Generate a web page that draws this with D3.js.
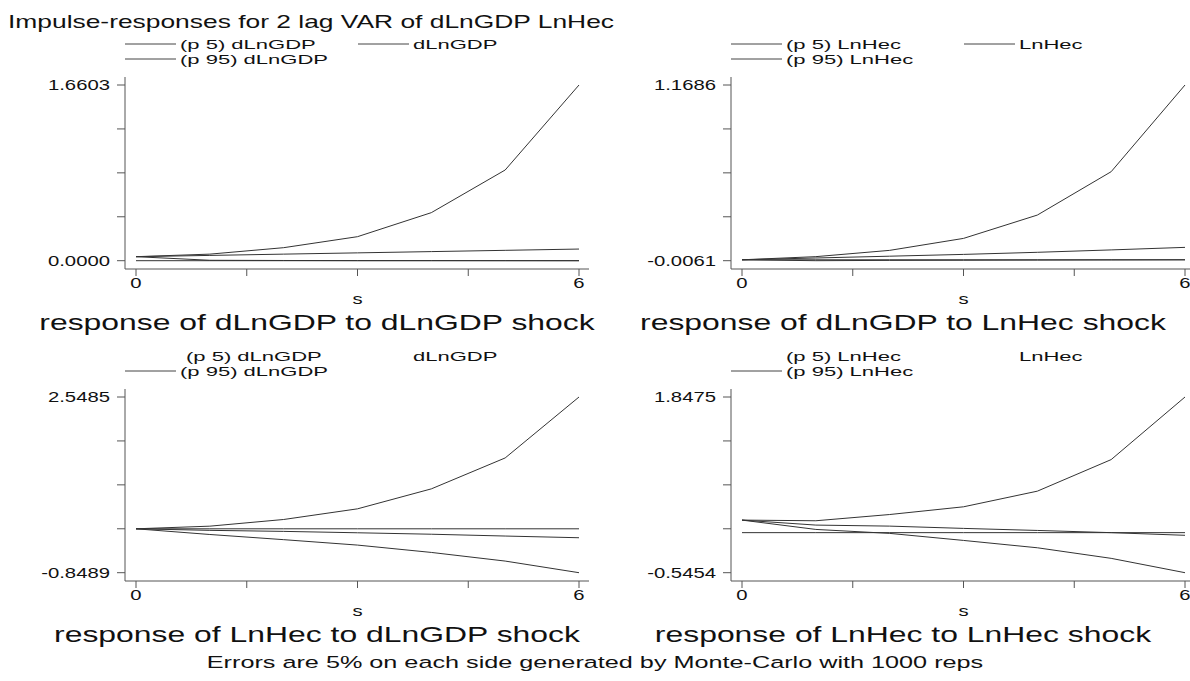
<!DOCTYPE html>
<html>
<head>
<meta charset="utf-8">
<script src="https://cdn.jsdelivr.net/npm/d3@7"></script>
<style>
  html, body { margin: 0; padding: 0; background: #fff; }
  svg { display: block; font-family: "Liberation Sans", Arial, sans-serif; }
</style>
</head>
<body>
<svg id="chart" width="1190" height="681"></svg>
<script>
// ---------------- DATA ----------------
const steps = [0, 1, 2, 3, 4, 5, 6];

const panelTitles = [
  "response of dLnGDP to dLnGDP shock",
  "response of dLnGDP to LnHec shock",
  "response of LnHec to dLnGDP shock",
  "response of LnHec to LnHec shock"
];
const shockNames = ["dLnGDP", "LnHec", "dLnGDP", "LnHec"];

const yMaxLabels = ["1.6603", "1.1686", "2.5485", "1.8475"];
const yMinLabels = ["0.0000", "-0.0061", "-0.8489", "-0.5454"];
const xTickValues = [0, 1.5, 3, 4.5, 6];
const xTickLabels = ["0", "", "", "", "6"];

// (p 95) upper bounds
const p95_gdp_gdp = [0.038, 0.062, 0.123, 0.227, 0.454, 0.857, 1.6603];
const p95_gdp_hec = [0.000, 0.021, 0.063, 0.143, 0.299, 0.589, 1.1686];
const p95_hec_gdp = [0.000, 0.051, 0.180, 0.386, 0.772, 1.370, 2.5485];
const p95_hec_hec = [0.171, 0.162, 0.247, 0.352, 0.565, 0.995, 1.8475];

// point impulse responses
const irf_gdp_gdp = [0.038, 0.050, 0.062, 0.074, 0.086, 0.098, 0.110];
const irf_gdp_hec = [0.000, 0.012, 0.024, 0.036, 0.050, 0.066, 0.083];
const irf_hec_gdp = [0.000, -0.030, -0.050, -0.077, -0.105, -0.140, -0.173];
const irf_hec_hec = [0.171, 0.103, 0.089, 0.058, 0.030, 0.000, -0.036];

// (p 5) lower bounds
const p5_gdp_gdp = [0.038, 0.004, 0.002, 0.001, 0.001, 0.0005, 0.000];
const p5_gdp_hec = [0.000, -0.0061, -0.004, -0.003, -0.002, -0.001, 0.000];
const p5_hec_gdp = [0.000, -0.110, -0.210, -0.315, -0.457, -0.624, -0.8489];
const p5_hec_hec = [0.171, 0.044, -0.010, -0.106, -0.206, -0.350, -0.5454];

const zeroLine = [0, 0, 0, 0, 0, 0, 0];

const mainTitle = "Impulse-responses for 2 lag VAR of dLnGDP LnHec";
const footNote = "Errors are 5% on each side generated by Monte-Carlo with 1000 reps";

// ---------------- LAYOUT ----------------
const SX = 1.45; // horizontal stretch of the original text
const colOff = [0, 606];
const rowOff = [0, 312];
const base = { axisX: 125, x0: 136, x1: 579, yTop: 85, yBot: 260.7, axisTop: 77, axisY: 269, axisRight: 589 };
const subCenters = [317, 903];

const panels = [
  { p95: p95_gdp_gdp, irf: irf_gdp_gdp, p5: p5_gdp_gdp },
  { p95: p95_gdp_hec, irf: irf_gdp_hec, p5: p5_gdp_hec },
  { p95: p95_hec_gdp, irf: irf_hec_gdp, p5: p5_hec_gdp },
  { p95: p95_hec_hec, irf: irf_hec_hec, p5: p5_hec_hec }
];

const svg = d3.select("#chart");

function addText(sel, x, y, str, size, anchor, sx) {
  return sel.append("text")
    .attr("transform", `translate(${x},${y}) scale(${sx || SX},1)`)
    .attr("text-anchor", anchor || "start")
    .attr("font-size", size)
    .attr("fill", "#111")
    .text(str);
}

addText(svg, 8, 28, mainTitle, 18.2, "start");

panels.forEach((p, i) => {
  const col = i % 2, row = Math.floor(i / 2);
  const dx = colOff[col], dy = rowOff[row];
  const g = svg.append("g").attr("transform", `translate(${dx},${dy})`);
  const yMin = parseFloat(yMinLabels[i]), yMax = parseFloat(yMaxLabels[i]);

  const x = d3.scaleLinear().domain([0, 6]).range([base.x0, base.x1]);
  const y = d3.scaleLinear().domain([yMin, yMax]).range([base.yBot, base.yTop]);

  // axes
  g.append("line").attr("x1", base.axisX).attr("x2", base.axisX)
    .attr("y1", base.axisTop).attr("y2", base.axisY)
    .attr("stroke", "#555").attr("stroke-width", 1);
  g.append("line").attr("x1", base.axisX).attr("x2", base.axisRight)
    .attr("y1", base.axisY).attr("y2", base.axisY)
    .attr("stroke", "#555").attr("stroke-width", 1);

  const yTicks = d3.range(5).map(k => yMin + (yMax - yMin) * k / 4);
  g.selectAll(".yt").data(yTicks).enter().append("line")
    .attr("x1", base.axisX - 8).attr("x2", base.axisX)
    .attr("y1", d => y(d)).attr("y2", d => y(d))
    .attr("stroke", "#555");
  addText(g, base.axisX - 15, y(yMax) + 5, yMaxLabels[i], 14, "end");
  addText(g, base.axisX - 15, y(yMin) + 5, yMinLabels[i], 14, "end");

  g.selectAll(".xt").data(xTickValues).enter().append("line")
    .attr("x1", d => x(d)).attr("x2", d => x(d))
    .attr("y1", base.axisY).attr("y2", base.axisY + 7)
    .attr("stroke", "#555");
  xTickValues.forEach((v, k) => {
    if (xTickLabels[k]) addText(g, x(v), base.axisY + 19, xTickLabels[k], 14, "middle");
  });
  addText(g, x(3), base.axisY + 35, "s", 14, "middle");
  addText(svg, subCenters[col], dy + 330, panelTitles[i], 22, "middle");

  // legend
  const nm = shockNames[i];
  const lg = g.append("g");
  const legSX = 1.72, legSize = 12.8;
  const shift = (row === 1 && col === 0) ? 6 : 0;
  const legendRows = [
    { lx: base.axisX, tx: base.axisX + 55 + shift, ty: 48.5, label: `(p 5) ${nm}`, show: row === 0 },
    { lx: base.axisX + 233, tx: base.axisX + 288, ty: 48.5, label: nm, show: row === 0 },
    { lx: base.axisX, tx: base.axisX + 55, ty: 63.5, label: `(p 95) ${nm}`, show: true }
  ];
  legendRows.forEach(r => {
    if (r.show) lg.append("line").attr("x1", r.lx).attr("x2", r.lx + 51)
      .attr("y1", r.ty - 4.5).attr("y2", r.ty - 4.5).attr("stroke", "#444").attr("stroke-width", 1);
    addText(lg, r.tx, r.ty, r.label, legSize, "start", legSX);
  });

  // lines
  const line = d3.line().x((d, k) => x(steps[k])).y(d => y(d));
  [zeroLine, p.p5, p.irf, p.p95].forEach(series => {
    g.append("path").datum(series).attr("d", line)
      .attr("fill", "none").attr("stroke", "#333").attr("stroke-width", 1);
  });
});

addText(svg, 595, 668, footNote, 17.4, "middle");
</script>
</body>
</html>
